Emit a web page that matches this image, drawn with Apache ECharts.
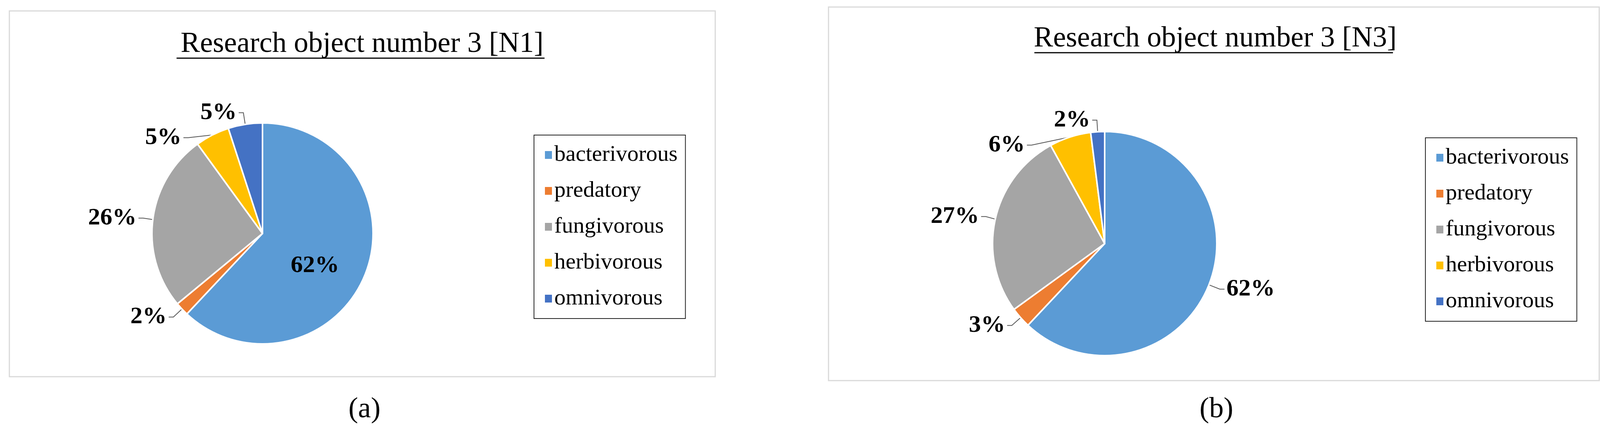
<!DOCTYPE html>
<html><head><meta charset="utf-8">
<script src="https://cdn.jsdelivr.net/npm/echarts@6/dist/echarts.min.js"></script>
<style>html,body{margin:0;background:#fff}#c{width:4110px;height:1099px}</style>
</head><body><div id="c"></div>
<script>
const categories = ['bacterivorous','predatory','fungivorous','herbivorous','omnivorous'];
const valuesN1 = [62, 2, 26, 5, 5];
const valuesN3 = [62, 3, 27, 6, 2];
const colors = ['#5B9BD5','#ED7D31','#A5A5A5','#FFC000','#4472C4'];
const titles = ['Research object number 3 [N1]','Research object number 3 [N3]'];
const captions = ['a','b'];
const font = 'Liberation Serif';

const chart = echarts.init(document.getElementById('c'));
function mk(vals, insideIdx){
  return categories.map((n,i)=>({name:n, value:vals[i],
    label: i===insideIdx ? {position:'inside', offset:[0,30]} : undefined,
    labelLine: i===insideIdx ? {show:false} : undefined}));
}
const lbl = {show:true, formatter:'{c}%', fontFamily:font, fontWeight:'bold', fontSize:62, color:'#000'};
const ll = {show:true, length:30, length2:12, lineStyle:{color:'#555', width:2}};
const legendBase = {orient:'vertical', icon:'rect', itemWidth:20, itemHeight:22, itemGap:34,
  textStyle:{fontFamily:font, fontSize:58, color:'#000'}, borderColor:'#222', borderWidth:2, padding:[22,20,22,26]};
const tStyle = {fontFamily:font, fontSize:74, fontWeight:'normal', color:'#000'};
chart.setOption({
  color: colors,
  animation:false,
  title:[
    {text:titles[0], left:922, top:72, textAlign:'center', textStyle:tStyle},
    {text:titles[1], left:3106, top:58, textAlign:'center', textStyle:tStyle},
    {text:'('+captions[0]+')', left:928, top:1008, textAlign:'center', textStyle:tStyle},
    {text:'('+captions[1]+')', left:3109, top:1008, textAlign:'center', textStyle:tStyle}
  ],
  graphic:[
    {type:'rect', shape:{x:24,y:28,width:1807,height:937}, style:{fill:'none', stroke:'#d9d9d9', lineWidth:3}},
    {type:'rect', shape:{x:2121,y:18,width:1973,height:957}, style:{fill:'none', stroke:'#d9d9d9', lineWidth:3}},
    {type:'line', shape:{x1:452,y1:149,x2:1394,y2:149}, style:{stroke:'#000', lineWidth:3}},
    {type:'line', shape:{x1:2648,y1:135,x2:3566,y2:135}, style:{stroke:'#000', lineWidth:3}}
  ],
  legend:[
    Object.assign({}, legendBase, {data:categories, left:1367, top:346}),
    Object.assign({}, legendBase, {data:categories, left:3649, top:353})
  ],
  series:[
    {type:'pie', center:[672,598], radius:283, startAngle:90, clockwise:true, data:mk(valuesN1,0),
     label:lbl, labelLine:ll, itemStyle:{borderColor:'#fff', borderWidth:4}, emphasis:{disabled:true}},
    {type:'pie', center:[2828,624], radius:287, startAngle:90, clockwise:true, data:mk(valuesN3,-1),
     label:lbl, labelLine:ll, itemStyle:{borderColor:'#fff', borderWidth:4}, emphasis:{disabled:true}}
  ]
});
</script></body></html>
